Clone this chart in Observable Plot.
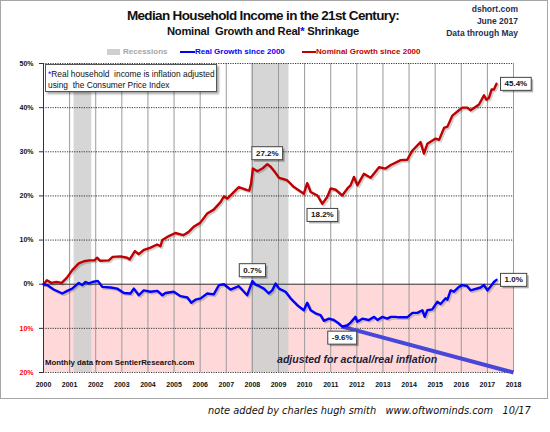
<!DOCTYPE html>
<html>
<head>
<meta charset="utf-8">
<script src="https://cdn.jsdelivr.net/npm/d3@7"></script>
<script src="https://cdn.jsdelivr.net/npm/@observablehq/plot@0.6"></script>
<style>
  body { margin: 0; background: #fff; }
  #chart { position: relative; width: 550px; height: 432px; font-family: "Liberation Sans", Arial, sans-serif; }
  #chart svg { position: absolute; left: 0; top: 0; }
  .abs { position: absolute; white-space: pre; line-height: 1; }
  .frame { position: absolute; left: 0; top: 0; width: 546px; height: 397px; border: 1px solid #a6a6a6; }
  .title { left: 0; width: 526px; text-align: center; top: 9px; font-size: 13.5px; font-weight: bold; letter-spacing: -0.65px; color: #111; }
  .subtitle { left: 0; width: 526px; text-align: center; top: 26px; font-size: 11.2px; font-weight: bold; letter-spacing: -0.25px; color: #111; }
  .source { right: 32px; top: 3px; text-align: right; font-size: 8.5px; line-height: 12px; font-weight: bold; color: #1f2f4f; }
  .legend { top: 48px; font-size: 8px; font-weight: bold; }
  .notebox { left: 45px; top: 64px; width: 170px; height: 26px; background: #fff; border: 1px solid #555;
             box-shadow: 2px 2px 2px rgba(0,0,0,0.35); }
  .notebox div { position: absolute; left: 2px; font-size: 8.4px; color: #111; white-space: pre; line-height: 1; }
  .monthly { left: 45px; top: 359px; font-size: 7.8px; font-weight: bold; color: #111; }
  .adjusted { left: 277px; top: 354px; font-size: 10.6px; font-weight: bold; font-style: italic; color: #1c1c3c; }
  .credit { left: 208px; top: 406px; font-size: 9.8px; font-style: italic; font-family: "DejaVu Sans", sans-serif; color: #111; }
</style>
</head>
<body>
<div id="chart">
  <div class="frame"></div>
</div>
<script>
// Median household income growth since 2000, monthly data (percent)
const nominalDates = [2000.00, 2000.13, 2000.30, 2000.50, 2000.70, 2000.90, 2001.10, 2001.35, 2001.55, 2001.75,
  2001.95, 2002.05, 2002.17, 2002.50, 2002.65, 2002.95, 2003.20, 2003.30, 2003.50, 2003.65,
  2003.85, 2004.10, 2004.35, 2004.48, 2004.55, 2004.80, 2005.05, 2005.35, 2005.55, 2005.75,
  2006.00, 2006.27, 2006.52, 2006.78, 2006.91, 2007.04, 2007.23, 2007.48, 2007.80, 2007.88,
  2007.95, 2008.02, 2008.19, 2008.38, 2008.57, 2008.70, 2008.85, 2009.02, 2009.20, 2009.34,
  2009.59, 2009.97, 2010.10, 2010.23, 2010.49, 2010.68, 2010.87, 2011.00, 2011.19, 2011.44,
  2011.64, 2011.76, 2011.89, 2012.02, 2012.27, 2012.53, 2012.85, 2013.10, 2013.30, 2013.68,
  2013.93, 2014.13, 2014.44, 2014.57, 2014.70, 2015.02, 2015.15, 2015.34, 2015.47, 2015.66,
  2015.91, 2016.04, 2016.23, 2016.36, 2016.68, 2016.87, 2016.96, 2017.06, 2017.16, 2017.25,
  2017.35];
const nominalValues = [0, 0.9, 0.3, 0.5, 0.3, 1.5, 3.2, 4.7, 5.2, 5.4,
  5.4, 6.0, 5.3, 5.4, 6.2, 6.3, 6.0, 5.6, 7.5, 6.8,
  7.8, 8.3, 9.0, 8.6, 10.0, 10.9, 11.6, 11.1, 11.8, 13.0,
  13.9, 16.0, 16.9, 18.6, 19.9, 19.4, 20.5, 22.0, 21.3, 21.2,
  22.8, 26.2, 25.6, 26.2, 27.2, 26.6, 25.5, 24.1, 23.8, 23.5,
  22.0, 20.5, 22.9, 20.9, 20.1, 18.2, 19.8, 21.7, 21.4, 20.1,
  21.7, 22.4, 24.3, 22.4, 25.0, 24.1, 26.5, 26.2, 27.0, 28.1,
  28.2, 30.3, 32.2, 29.6, 31.8, 33.0, 32.7, 35.4, 35.7, 38.2,
  39.4, 40.0, 40.0, 39.4, 40.7, 42.8, 41.8, 42.2, 44.1, 44.1,
  45.4];

const realDates = [2000.00, 2000.14, 2000.39, 2000.72, 2000.91, 2001.10, 2001.35, 2001.48, 2001.61, 2001.74,
  2001.87, 2002.08, 2002.25, 2002.57, 2002.82, 2003.08, 2003.33, 2003.46, 2003.65, 2003.84,
  2004.10, 2004.36, 2004.55, 2004.67, 2004.99, 2005.25, 2005.51, 2005.66, 2005.82, 2006.02,
  2006.27, 2006.52, 2006.72, 2006.91, 2007.16, 2007.48, 2007.80, 2008.00, 2008.12, 2008.25,
  2008.44, 2008.63, 2008.76, 2008.89, 2009.02, 2009.27, 2009.46, 2009.72, 2009.97, 2010.10,
  2010.23, 2010.42, 2010.61, 2010.74, 2010.93, 2011.12, 2011.31, 2011.44, 2011.64, 2011.76,
  2011.95, 2012.02, 2012.21, 2012.46, 2012.66, 2012.79, 2012.98, 2013.17, 2013.30, 2013.49,
  2013.61, 2013.93, 2014.13, 2014.32, 2014.51, 2014.60, 2014.70, 2014.89, 2015.08, 2015.21,
  2015.40, 2015.47, 2015.59, 2015.72, 2015.91, 2016.04, 2016.23, 2016.36, 2016.74, 2016.87,
  2017.00, 2017.13, 2017.25, 2017.35];
const realValues = [0, -0.2, -1.2, -2.1, -1.5, -1.0, 0.3, -0.2, 0.5, 0.2,
  0.5, 0.75, -0.6, -0.75, -1.0, -2.0, -2.1, -1.0, -2.5, -1.4,
  -1.7, -1.5, -2.5, -2.0, -1.7, -2.7, -3.0, -4.2, -3.5, -3.2,
  -2.1, -2.3, -0.2, 0, -1.2, -0.45, -2.5, 0.7, -0.1, -0.4,
  -1.0, -2.1, -1.4, 0.15, -1.0, -1.7, -3.2, -4.75, -5.9, -4.2,
  -5.9, -6.6, -7.0, -8.3, -7.8, -8.1, -8.9, -9.6, -9.3, -8.7,
  -7.4, -8.5, -7.8, -8.1, -7.4, -8.1, -7.4, -7.8, -7.4, -7.4,
  -7.5, -7.5, -6.5, -6.5, -5.9, -7.4, -5.9, -5.7, -4.0, -4.5,
  -3.2, -3.5, -1.4, -1.7, -0.6, -0.2, -0.45, -1.4, -0.75, -0.2,
  -1.4, -0.45, 0.5, 1.0];

// hand-drawn "real inflation" trend from the 2011 low
const trendDates = [2011.44, 2018];
const trendValues = [-9.6, -20];

// NBER recessions
const recessionStarts = [2001.17, 2007.96];
const recessionEnds = [2001.85, 2009.40];

const yearTicks = d3.range(2000, 2019);
const positiveTicks = [0, 10, 20, 30, 40, 50];
const negativeTicks = [-10, -20];
const xDomain = [2000, 2018];
const yDomain = [-20, 50];

const nominal = nominalDates.map((d, i) => ({date: d, value: nominalValues[i]}));
const real = realDates.map((d, i) => ({date: d, value: realValues[i]}));
const trend = trendDates.map((d, i) => ({date: d, value: trendValues[i]}));
const recessions = recessionStarts.map((d, i) => ({start: d, end: recessionEnds[i]}));

// points that carry a boxed value label
const nomMax = d3.greatest(nominal.filter(d => d.date < 2010), d => d.value);
const nomMin = d3.least(nominal.filter(d => d.date > 2009), d => d.value);
const realPeak = d3.greatest(real.filter(d => d.date > 2007.5 && d.date < 2009), d => d.value);
const realMin = d3.least(real, d => d.value);
const labelsAbove = [nomMax, realPeak];
const labelsBelow = [nomMin, realMin];
const labelsRight = [nominal[nominal.length - 1], real[real.length - 1]];

const fmt = d => d.value.toFixed(1) + "%";
const labelOpts = {x: "date", y: "value", text: fmt, fontSize: 8, fontWeight: "bold", fill: "#111"};

const plot = Plot.plot({
    width: 550,
    height: 432,
    marginTop: 63,
    marginBottom: 60,
    marginLeft: 43,
    marginRight: 37,
    style: {fontFamily: "'Liberation Sans', Arial, sans-serif", fontSize: "7px", fontWeight: "bold", overflow: "visible", background: "transparent"},
    x: {domain: xDomain, label: null},
    y: {domain: yDomain, label: null},
    marks: [
        // pink shading below zero
        Plot.rect([{x1: xDomain[0], x2: xDomain[1], y1: yDomain[0], y2: 0}], {x1: "x1", x2: "x2", y1: "y1", y2: "y2", fill: "#ffd9da"}),
        Plot.rectX(recessions, {x1: "start", x2: "end", fill: "#cfcfcf", fillOpacity: 0.85}),
        Plot.gridX({ticks: yearTicks.slice(1), stroke: "#9a9a9a", strokeOpacity: 1}),
        Plot.gridY({ticks: [-20, -10, 10, 20, 30, 40, 50], stroke: "#222", strokeOpacity: 0.9, strokeDasharray: "1.2,1.2"}),
        Plot.ruleY([0], {stroke: "#333"}),
        Plot.ruleX([xDomain[0]], {stroke: "#333"}),
        Plot.axisY({ticks: positiveTicks, tickFormat: d => d + "%", tickSize: 4, tickPadding: 6, stroke: "#333", fill: "#111", label: null}),
        Plot.axisY({ticks: negativeTicks, tickFormat: d => -d + "%", tickSize: 4, tickPadding: 6, stroke: "#333", fill: "#ff0000", label: null}),
        Plot.axisX({ticks: yearTicks, tickFormat: "d", tickSize: 0, tickPadding: 10, fill: "#111", label: null}),
        // trend line
        Plot.line(trend, {x: "date", y: "value", stroke: "#4848d8", strokeWidth: 4, strokeLinecap: "butt"}),
        // shadows then series
        Plot.line(nominal, {x: "date", y: "value", dx: 1.5, dy: 1.5, stroke: "#000", strokeOpacity: 0.18, strokeWidth: 2.6}),
        Plot.line(real, {x: "date", y: "value", dx: 1.5, dy: 1.5, stroke: "#000", strokeOpacity: 0.18, strokeWidth: 2.6}),
        Plot.line(nominal, {x: "date", y: "value", stroke: "#c00000", strokeWidth: 2.4}),
        Plot.line(real, {x: "date", y: "value", stroke: "#0000ff", strokeWidth: 2.4}),
        // boxed value labels
        Plot.text(labelsAbove, {...labelOpts, dy: -11}),
        Plot.text(labelsBelow, {...labelOpts, dy: 11}),
        Plot.text(labelsRight, {...labelOpts, dx: 8, textAnchor: "start"}),
    ],
});

const chart = document.getElementById("chart");
chart.appendChild(plot);

// draw white boxes with a soft shadow behind the value labels
const svgNS = "http://www.w3.org/2000/svg";
const svgRoot = plot.tagName.toLowerCase() === "svg" ? plot : plot.querySelector("svg");
Array.from(svgRoot.querySelectorAll("text"))
    .filter(t => /^-?\d+\.\d%$/.test(t.textContent.trim()))
    .forEach(t => {
        const b = t.getBBox();
        const parent = t.parentNode;
        const padX = 4, padY = 2;
        const shadow = document.createElementNS(svgNS, "rect");
        shadow.setAttribute("x", b.x - padX + 2);
        shadow.setAttribute("y", b.y - padY + 2);
        shadow.setAttribute("width", b.width + 2 * padX);
        shadow.setAttribute("height", b.height + 2 * padY);
        shadow.setAttribute("fill", "#000");
        shadow.setAttribute("fill-opacity", "0.3");
        shadow.setAttribute("transform", t.getAttribute("transform") || "");
        const box = document.createElementNS(svgNS, "rect");
        box.setAttribute("x", b.x - padX);
        box.setAttribute("y", b.y - padY);
        box.setAttribute("width", b.width + 2 * padX);
        box.setAttribute("height", b.height + 2 * padY);
        box.setAttribute("fill", "#fff");
        box.setAttribute("stroke", "#444");
        box.setAttribute("transform", t.getAttribute("transform") || "");
        parent.insertBefore(shadow, t);
        parent.insertBefore(box, t);
    });

// titles, legend and notes
function addDiv(cls, html, style) {
    const el = document.createElement("div");
    el.className = "abs " + cls;
    el.innerHTML = html;
    if (style) el.setAttribute("style", style);
    chart.appendChild(el);
    return el;
}

addDiv("title", "Median Household Income in the 21st Century:");
addDiv("subtitle", "Nominal  Growth and Real<span style=\"color:#0000ff\">*</span> Shrinkage");
addDiv("source", "dshort.com<br>June 2017<br>Data through May");

addDiv("swatch", "", "left:107px;top:49px;width:13px;height:6px;background:#cfcfcf;");
addDiv("legend", "Recessions", "left:123px;color:#a6a6a6;");
addDiv("swatch", "", "left:180px;top:51px;width:15px;height:2px;background:#0000ff;");
addDiv("legend", "Real Growth since 2000", "left:195px;color:#0000ff;");
addDiv("swatch", "", "left:302px;top:51px;width:14px;height:2px;background:#c00000;");
addDiv("legend", "Nominal Growth since 2000", "left:316px;color:#c00000;");

const box = addDiv("notebox", "");
box.innerHTML = "<div style=\"top:5px\"><span style=\"color:#0000ff\">*</span>Real household  income is inflation adjusted</div>" +
    "<div style=\"top:15.5px\">using  the Consumer Price Index</div>";

addDiv("monthly", "Monthly data from SentierResearch.com");
addDiv("adjusted", "adjusted for actual/real inflation");
addDiv("credit", "note added by charles hugh smith   www.oftwominds.com   10/17");
</script>
</body>
</html>
